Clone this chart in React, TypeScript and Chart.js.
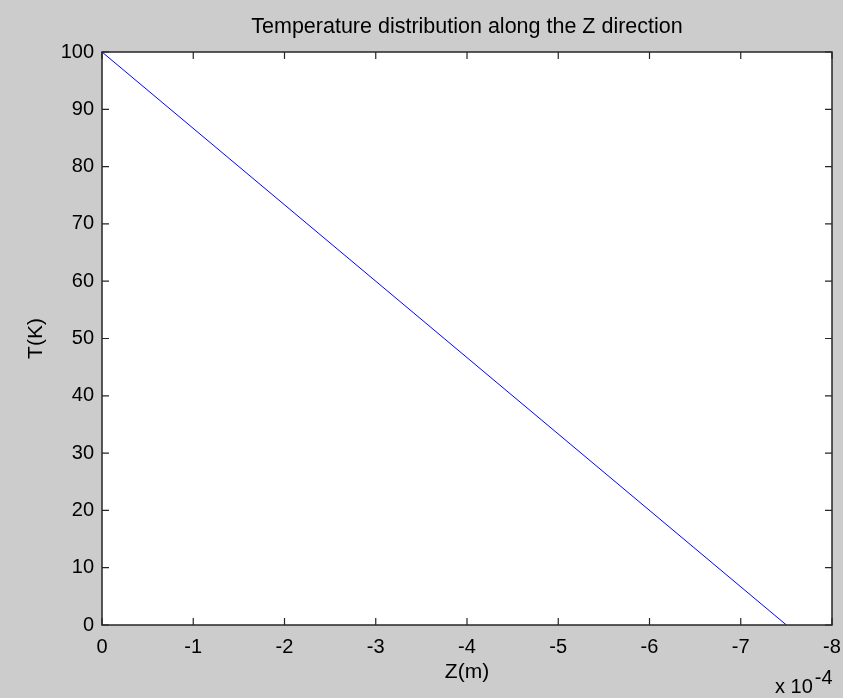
import React, { useEffect, useRef } from "react";
import { Chart, registerables } from "chart.js";

Chart.register(...registerables);

// ---- data ----
const zMeters: number[] = [0, -7.5e-4];
const temperatureK: number[] = [100, 0];
const X_EXPONENT = -4;
const xTickValues: number[] = [0, -1, -2, -3, -4, -5, -6, -7, -8];
const yTickValues: number[] = [0, 10, 20, 30, 40, 50, 60, 70, 80, 90, 100];
const TITLE = "Temperature distribution along the Z direction";
const X_LABEL = "Z(m)";
const Y_LABEL = "T(K)";

// ---- layout ----
const W = 843;
const H = 698;
const AREA = { left: 102, top: 52, right: 832, bottom: 625 };
const FONT_FAMILY = "'Liberation Sans', Arial, Helvetica, sans-serif";
const TEXT_COLOR = "#000000";
const AXIS_COLOR = "#262626";
const BG = "#cccccc";
const TICK_LEN = 7;

const matlabPlugin = {
  id: "matlabFrame",
  beforeDraw(chart: any) {
    const ctx = chart.ctx as CanvasRenderingContext2D;
    const a = chart.chartArea;
    ctx.save();
    ctx.fillStyle = BG;
    ctx.fillRect(0, 0, chart.width, chart.height);
    ctx.fillStyle = "#ffffff";
    ctx.fillRect(a.left, a.top, a.right - a.left, a.bottom - a.top);
    ctx.restore();
  },
  afterDraw(chart: any) {
    const ctx = chart.ctx as CanvasRenderingContext2D;
    const a = chart.chartArea;
    const xs = chart.scales.x;
    const ys = chart.scales.y;
    ctx.save();
    ctx.strokeStyle = AXIS_COLOR;
    ctx.lineWidth = 1.5;
    ctx.strokeRect(a.left, a.top, a.right - a.left, a.bottom - a.top);
    ctx.lineWidth = 1.2;
    ctx.beginPath();
    xTickValues.forEach((v) => {
      const px = xs.getPixelForValue(v);
      ctx.moveTo(px, a.bottom);
      ctx.lineTo(px, a.bottom - TICK_LEN);
      ctx.moveTo(px, a.top);
      ctx.lineTo(px, a.top + TICK_LEN);
    });
    yTickValues.forEach((v) => {
      const py = ys.getPixelForValue(v);
      ctx.moveTo(a.left, py);
      ctx.lineTo(a.left + TICK_LEN, py);
      ctx.moveTo(a.right, py);
      ctx.lineTo(a.right - TICK_LEN, py);
    });
    ctx.stroke();

    const cx = (a.left + a.right) / 2;
    const cy = (a.top + a.bottom) / 2;
    ctx.fillStyle = TEXT_COLOR;
    ctx.textBaseline = "alphabetic";

    // title
    ctx.font = `21.5px ${FONT_FAMILY}`;
    ctx.textAlign = "center";
    ctx.fillText(TITLE, cx, 33);

    // x label
    ctx.font = `21px ${FONT_FAMILY}`;
    ctx.fillText(X_LABEL, cx, 678);

    // y label
    ctx.save();
    ctx.translate(42, cy);
    ctx.rotate(-Math.PI / 2);
    ctx.textAlign = "center";
    ctx.fillText(Y_LABEL, 0, 0);
    ctx.restore();

    // exponent
    ctx.font = `20px ${FONT_FAMILY}`;
    ctx.textAlign = "left";
    const base = "x 10";
    ctx.fillText(base, 775, 693);
    const bw = ctx.measureText(base).width;
    ctx.fillText(String(X_EXPONENT), 775 + bw + 2, 684);
    ctx.restore();
  },
};

export default function App() {
  const ref = useRef<HTMLCanvasElement | null>(null);

  useEffect(() => {
    document.body.style.margin = "0";
    const canvas = ref.current;
    if (!canvas) return;
    const scale = Math.pow(10, X_EXPONENT);
    const points = zMeters.map((z, i) => ({ x: z / scale, y: temperatureK[i] }));

    const chart = new Chart(canvas, {
      type: "line",
      data: {
        datasets: [
          {
            data: points,
            borderColor: "#0000ff",
            borderWidth: 1,
            pointRadius: 0,
            fill: false,
            tension: 0,
          },
        ],
      },
      options: {
        responsive: false,
        animation: false,
        devicePixelRatio: 1,
        layout: {
          padding: { top: AREA.top, right: W - AREA.right, left: 0, bottom: 0 },
        },
        plugins: {
          legend: { display: false },
          title: { display: false },
          tooltip: { enabled: false },
        },
        scales: {
          x: {
            type: "linear",
            reverse: true,
            min: xTickValues[xTickValues.length - 1],
            max: xTickValues[0],
            grid: { display: false, drawTicks: false },
            border: { display: false },
            afterFit: (s: any) => {
              s.height = H - AREA.bottom;
              s.paddingLeft = 0;
              s.paddingRight = 0;
            },
            afterBuildTicks: (s: any) => {
              s.ticks = xTickValues.map((v) => ({ value: v }));
            },
            ticks: {
              padding: 10,
              color: TEXT_COLOR,
              font: { family: FONT_FAMILY, size: 20 },
              maxRotation: 0,
              autoSkip: false,
              callback: (v: any) => String(v),
            },
          },
          y: {
            type: "linear",
            min: yTickValues[0],
            max: yTickValues[yTickValues.length - 1],
            grid: { display: false, drawTicks: false },
            border: { display: false },
            afterFit: (s: any) => {
              s.width = AREA.left;
              s.paddingTop = 0;
              s.paddingBottom = 0;
            },
            afterBuildTicks: (s: any) => {
              s.ticks = yTickValues.map((v) => ({ value: v }));
            },
            ticks: {
              padding: 8,
              color: TEXT_COLOR,
              font: { family: FONT_FAMILY, size: 20 },
              autoSkip: false,
              callback: (v: any) => String(v),
            },
          },
        },
      },
      plugins: [matlabPlugin],
    });
    return () => chart.destroy();
  }, []);

  return (
    <div style={{ width: W, height: H }}>
      <canvas ref={ref} width={W} height={H} style={{ display: "block", width: W, height: H }} />
    </div>
  );
}
